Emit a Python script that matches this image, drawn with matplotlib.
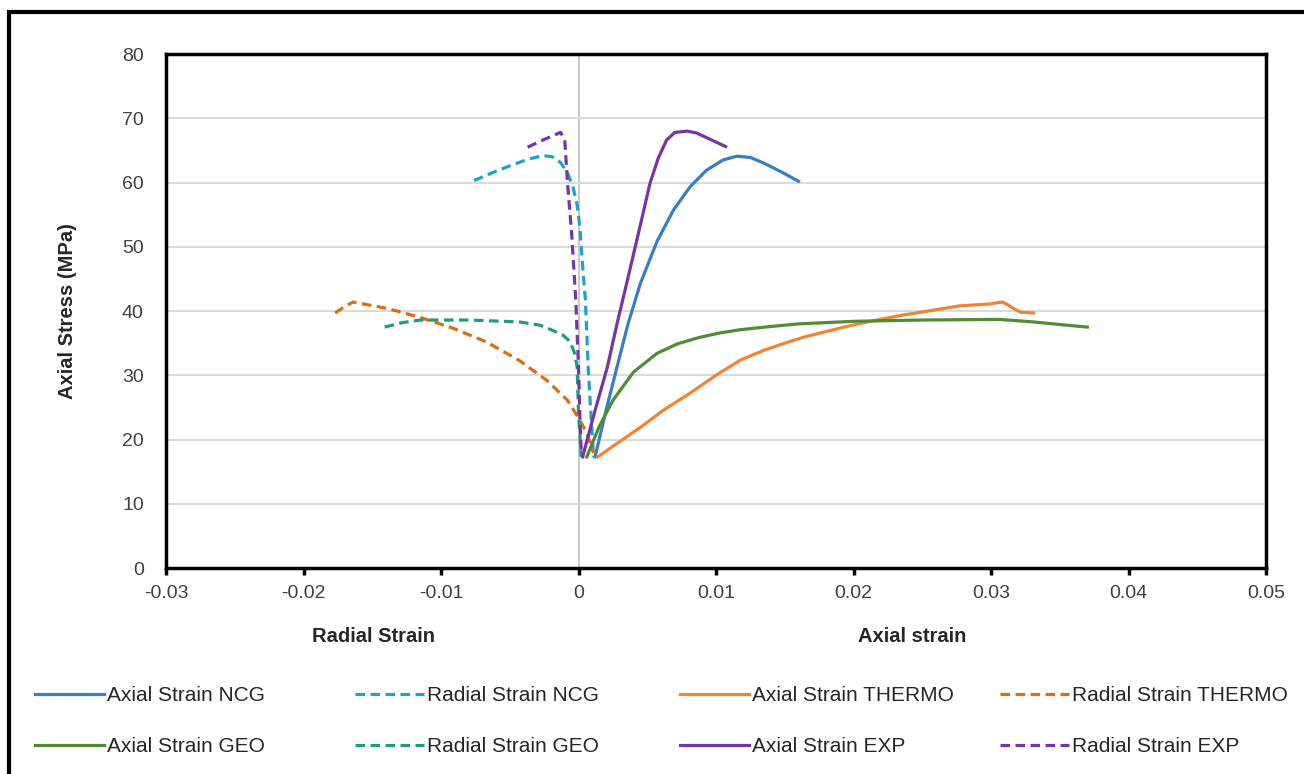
import matplotlib.pyplot as plt
from matplotlib.patches import Rectangle

## Daten
ncg_ax_x = [0.0012, 0.0020, 0.0028, 0.0036, 0.0045, 0.0057, 0.0069, 0.0081, 0.0093, 0.0105, 0.0115,
            0.0125, 0.0135, 0.0148, 0.0160]
ncg_ax_y = [17.3, 24.5, 31.3, 38.0, 44.3, 50.8, 55.7, 59.3, 61.9, 63.5, 64.1, 63.9, 63.0, 61.6, 60.2]

ncg_rad_x = [-0.0076, -0.0063, -0.0050, -0.0037, -0.0026, -0.0019, -0.0013, -0.0008, -0.0004, -0.0001,
             0.0001, 0.0003, 0.0005, 0.0007, 0.0009, 0.0011]
ncg_rad_y = [60.3, 61.5, 62.6, 63.6, 64.2, 64.0, 63.1, 61.5, 59.3, 56.5, 53.0, 47.0, 41.7, 31.3, 24.0, 17.3]

th_ax_x = [0.0014, 0.0030, 0.0045, 0.0062, 0.0081, 0.0100, 0.0118, 0.0135, 0.0150, 0.0165, 0.0180,
           0.0195, 0.0210, 0.0234, 0.0260, 0.0277, 0.0299, 0.0308, 0.0312, 0.0317, 0.0322, 0.0331]
th_ax_y = [17.3, 19.7, 21.9, 24.6, 27.2, 30.0, 32.4, 33.9, 35.0, 36.0, 36.8, 37.6, 38.3, 39.3, 40.2,
           40.8, 41.1, 41.4, 41.0, 40.3, 39.8, 39.7]

th_rad_x = [-0.0177, -0.0170, -0.0164, -0.0139, -0.0115, -0.0091, -0.0067, -0.0043, -0.0023, -0.0008,
            0.0001, 0.0006, 0.0011]
th_rad_y = [39.7, 40.7, 41.4, 40.4, 39.0, 37.3, 35.2, 32.3, 29.2, 26.1, 23.0, 21.0, 17.9]

geo_ax_x = [0.0006, 0.0015, 0.0025, 0.0040, 0.0057, 0.0072, 0.0088, 0.0103, 0.0118, 0.0140, 0.0160,
            0.0200, 0.0250, 0.0306, 0.0331, 0.0350, 0.0370]
geo_ax_y = [17.3, 22.0, 26.1, 30.5, 33.4, 34.9, 35.9, 36.6, 37.1, 37.6, 38.0, 38.4, 38.6, 38.7, 38.3,
            37.9, 37.5]

geo_rad_x = [-0.0141, -0.0128, -0.0115, -0.0079, -0.0043, -0.0028, -0.0019, -0.0011, -0.0006, -0.0003,
             -0.0001, 0.0000, 0.0002]
geo_rad_y = [37.5, 38.2, 38.6, 38.6, 38.3, 37.8, 37.0, 36.2, 35.2, 33.5, 31.3, 24.1, 17.3]

exp_ax_x = [0.0003, 0.0012, 0.0021, 0.0028, 0.0035, 0.0044, 0.0052, 0.0058, 0.0064, 0.0070, 0.0079,
            0.0086, 0.0096, 0.0107]
exp_ax_y = [17.3, 24.5, 31.3, 38.0, 44.3, 52.5, 59.9, 63.8, 66.6, 67.8, 68.0, 67.7, 66.7, 65.6]

exp_rad_x = [-0.0037, -0.0025, -0.0013, -0.0010, -0.0008, -0.0005, -0.0002, 0.0000, 0.0001, 0.0002]
exp_rad_y = [65.5, 66.7, 67.8, 66.6, 59.9, 52.1, 41.7, 31.3, 23.5, 17.6]

x_ticks = [-0.03, -0.02, -0.01, 0, 0.01, 0.02, 0.03, 0.04, 0.05]
x_labels = ["-0.03", "-0.02", "-0.01", "0", "0.01", "0.02", "0.03", "0.04", "0.05"]

## Plot
plt.rcParams["font.family"] = ["Liberation Sans", "DejaVu Sans"]

fig = plt.figure(figsize=(13.04, 7.74), dpi=100)
ax = fig.add_axes([0.1273, 0.2661, 0.8436, 0.6641])

lw = 2.3
dash = (0, (3, 1.7))
l1, = ax.plot(ncg_ax_x, ncg_ax_y, color="#3A7DC0", lw=lw, label="Axial Strain NCG")
l2, = ax.plot(ncg_rad_x, ncg_rad_y, color="#1FA2C6", lw=lw, ls=dash, label="Radial Strain NCG")
l3, = ax.plot(th_ax_x, th_ax_y, color="#F08436", lw=lw, label="Axial Strain THERMO")
l4, = ax.plot(th_rad_x, th_rad_y, color="#D9700F", lw=lw, ls=dash, label="Radial Strain THERMO")
l5, = ax.plot(geo_ax_x, geo_ax_y, color="#538A35", lw=lw, label="Axial Strain GEO")
l6, = ax.plot(geo_rad_x, geo_rad_y, color="#1F9A85", lw=lw, ls=dash, label="Radial Strain GEO")
l7, = ax.plot(exp_ax_x, exp_ax_y, color="#7535A5", lw=lw, label="Axial Strain EXP")
l8, = ax.plot(exp_rad_x, exp_rad_y, color="#7535A5", lw=lw, ls=dash, label="Radial Strain EXP")

ax.set_xlim(-0.03, 0.05)
ax.set_ylim(0, 80)
ax.set_xticks(x_ticks)
ax.set_xticklabels(x_labels)
ax.set_yticks(range(0, 81, 10))
ax.yaxis.grid(True, color="#D9D9D9", lw=1.4)
ax.set_axisbelow(True)
ax.axvline(0, color="#BFBFBF", lw=1.2, zorder=0)
ax.tick_params(axis="x", length=5, width=2.5, colors="black", labelsize=14, labelcolor="#404040", pad=7)
ax.tick_params(axis="y", length=0, labelsize=14, labelcolor="#404040", pad=16)
for s in ax.spines.values():
    s.set_linewidth(2.5)
    s.set_color("black")

ax.set_ylabel("Axial Stress (MPa)", fontsize=14.5, fontweight="bold", labelpad=32, color="#262626")
fig.text(373 / 1304, 1 - 636 / 774, "Radial Strain", ha="center", va="center", fontsize=14.5,
         fontweight="bold", color="#262626")
fig.text(912 / 1304, 1 - 636 / 774, "Axial strain", ha="center", va="center", fontsize=14.5,
         fontweight="bold", color="#262626")

# Legende: 4 Spalten, je 2 Eintraege
columns = [(l1, l5), (l2, l6), (l3, l7), (l4, l8)]
col_x = [35, 355, 680, 1000]
for hs, cx in zip(columns, col_x):
    leg = fig.legend(handles=list(hs), labels=[h.get_label() for h in hs], frameon=False,
                     loc="center left", bbox_to_anchor=(cx / 1304, 1 - 721 / 774),
                     fontsize=15, handlelength=3.3, handletextpad=0.15, labelspacing=1.55,
                     borderpad=0, borderaxespad=0, labelcolor="#262626")

# Rahmen
fig.patches.append(Rectangle((9 / 1304, -0.05), 1.1, 1 - 12 / 774 + 0.05, transform=fig.transFigure,
                             fill=False, edgecolor="black", lw=3, clip_on=False))

fig.savefig("out.png", dpi=100)
